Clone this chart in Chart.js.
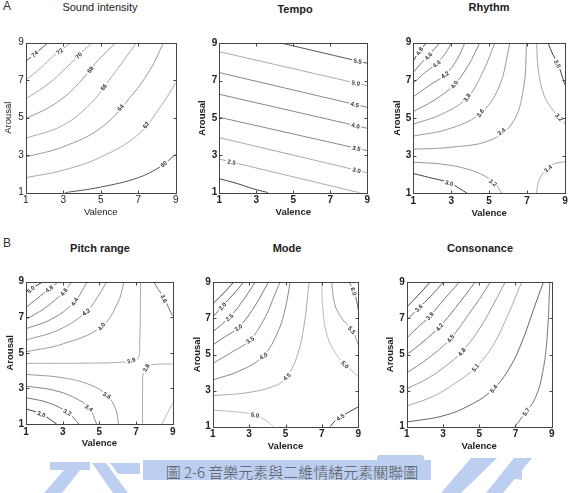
<!DOCTYPE html>
<html>
<head>
<meta charset="utf-8">
<script src="https://cdn.jsdelivr.net/npm/chart.js@4/dist/chart.umd.min.js"></script>
<style>
  body { margin: 0; background: #fff; }
  #page { position: relative; width: 569px; height: 493px; overflow: hidden; font-family: "Liberation Sans", Arial, sans-serif; }
  canvas { position: absolute; }
  .txt { position: absolute; white-space: nowrap; color: #222; transform: translate(-50%, -50%); }
  .ttl { font-size: 11px; font-weight: bold; }
  .tag { font-size: 12px; color: #333; transform: none; }
  #caption { font-family: "Noto Sans CJK TC", serif; font-size: 15px; font-weight: 300; color: #555; }
  #mark { position: absolute; left: 0; top: 0; }
</style>
</head>
<body>
<div id="page">
  <svg id="mark" width="569" height="493">
    <g fill="#bccff0">
      <polygon points="50,462 90,462 90,470 80,470 62,493 44,493 64,470 50,470"/>
      <polygon points="92,463 106,463 128,493 113,493"/>
      <polygon points="110,463 140,463 140,474 118,474"/>
      <rect x="143" y="460" width="288" height="20"/>
      <rect x="377" y="455" width="47" height="6" rx="3"/>
      <polygon points="471,458 497,458 461,493 441,493"/>
      <polygon points="514,458 532,458 503,493 486,493"/>
      <polygon points="500,476 522,470 522,480"/>
    </g>
  </svg>
  <div class="txt tag" style="left:3px;top:-1px">A</div>
  <div class="txt tag" style="left:3px;top:236px">B</div>
  <div class="txt ttl" style="left:100px;top:7px;font-weight:normal">Sound intensity</div>
  <div class="txt ttl" style="left:295px;top:9px">Tempo</div>
  <div class="txt ttl" style="left:489px;top:7px">Rhythm</div>
  <div class="txt ttl" style="left:100px;top:248px">Pitch range</div>
  <div class="txt ttl" style="left:287px;top:248px">Mode</div>
  <div class="txt ttl" style="left:480px;top:248px">Consonance</div>
  <div id="caption" class="txt" style="left:292px;top:471px">圖 2-6 音樂元素與二維情緒元素關聯圖</div>
</div>
<script>
// axis ticks (valence / arousal scale 1..9)
const valenceTicks = [1, 3, 5, 7, 9];
const arousalTicks = [1, 3, 5, 7, 9];

// Sound intensity contours
const soundLevels = ['60', '62', '64', '66', '68', '70', '72', '74'];
const soundLines = [
    [[3.1, 1], [5, 1.3], [7, 1.8], [8.2, 2.4], [9, 3.05]],
    [[1, 1.8], [3, 2.2], [5, 2.9], [7, 4.1], [8.2, 5.6], [9, 6.85]],
    [[1, 2.9], [3, 3.45], [5, 4.45], [6.5, 6.0], [7.6, 7.5], [8.35, 9]],
    [[1, 3.9], [3, 4.6], [4.5, 5.8], [5.6, 7.2], [6.9, 9]],
    [[1, 4.95], [2.5, 5.7], [3.7, 6.7], [4.9, 8.1], [5.8, 9]],
    [[1, 6.0], [2.2, 6.8], [3.2, 7.7], [4, 8.5], [4.55, 9]],
    [[1, 7.0], [1.8, 7.65], [2.5, 8.3], [3.4, 9]],
    [[1, 8.0], [1.6, 8.5], [2.2, 9]]
];
const soundLabelAt = [[8.3, 2.6], [7.3, 4.7], [6.0, 5.6], [5.2, 6.6], [4.4, 7.6], [3.8, 8.35], [2.76, 8.6], [1.4, 8.5]];

// Tempo contours
const tempoLevels = ['2.0', '2.5', '3.0', '3.5', '4.0', '4.5', '5.0', '5.5'];
const tempoLines = [
    [[1, 1.75], [2, 1.48], [2.8, 1.22], [3.65, 1]],
    [[1, 2.8], [8.57, 1]],
    [[1, 3.95], [9, 2.07]],
    [[1, 5.04], [9, 3.25]],
    [[1, 6.27], [9, 4.45]],
    [[1, 7.43], [9, 5.57]],
    [[1, 8.55], [9, 6.73]],
    [[4.4, 9], [9, 7.93]]
];
const tempoLabelAt = [null, [1.67, 2.65], [8.42, 2.2], [8.42, 3.4], [8.37, 4.6], [8.32, 5.7], [8.39, 6.9], [8.48, 8.05]];

// Rhythm contours
const rhythmLevels = ['3.0', '3.2', '3.4', '3.4', '3.6', '3.8', '4.0', '4.2', '4.4', '4.6', '4.8', '3.2', '3.0'];
const rhythmLines = [
    [[1, 2.05], [1.8, 1.85], [2.9, 1.55], [3.85, 1]],
    [[1, 2.65], [2.5, 2.55], [3.8, 2.3], [4.8, 1.9], [5.4, 1.4], [5.66, 1]],
    [[7.5, 1], [7.6, 1.6], [7.9, 2.15], [8.4, 2.55], [9, 2.68]],
    [[1, 3.34], [3, 3.45], [5.0, 3.8], [6.2, 4.7], [6.8, 6.5], [6.98, 9]],
    [[1, 4.04], [2.8, 4.4], [4.48, 5.2], [5.5, 6.6], [6.1, 9]],
    [[1, 4.68], [2.5, 5.2], [3.81, 6.05], [4.6, 7.3], [5.31, 9]],
    [[1, 5.34], [2.1, 5.95], [3.14, 6.75], [3.9, 7.8], [4.51, 9]],
    [[1, 6.13], [1.8, 6.7], [2.67, 7.3], [3.3, 8.1], [3.72, 9]],
    [[1, 6.84], [1.6, 7.4], [2.25, 7.9], [2.7, 8.45], [3.02, 9]],
    [[1, 7.41], [1.4, 7.9], [1.8, 8.3], [2.1, 8.65], [2.41, 9]],
    [[1, 8.03], [1.32, 8.55], [1.7, 9]],
    [[7.5, 9], [7.6, 7.5], [7.9, 6.2], [8.38, 5.4], [9, 4.7]],
    [[8.1, 9], [8.35, 8.4], [8.65, 7.8], [8.95, 6.9], [9, 6.75]]
];
const rhythmLabelAt = [[2.9, 1.55], [5.27, 1.65], [8.07, 2.35], [5.71, 4.19], [4.48, 5.3], [3.81, 6.1], [3.14, 6.8],
    [2.67, 7.3], [2.23, 7.87], [1.79, 8.3], [1.32, 8.55], [8.82, 5.16], [8.73, 7.94]];

// Pitch range contours
const pitchLevels = ['3.0', '3.2', '3.4', '3.6', '3.8', '3.8', '4.0', '4.2', '4.4', '4.6', '4.8', '5.0', '3.6', '3.6'];
const pitchLines = [
    [[1, 1.85], [1.85, 1.55], [2.67, 1]],
    [[1, 2.48], [2.2, 2.2], [3.27, 1.65], [3.89, 1]],
    [[1, 3.13], [2.5, 2.9], [3.6, 2.5], [4.45, 1.9], [4.85, 1]],
    [[1, 3.79], [3, 3.6], [4.5, 3.2], [5.44, 2.6], [5.9, 1.8], [6.04, 1]],
    [[9, 4.37], [8, 4.35], [7.6, 4.25], [7.4, 3.9], [7.36, 3], [7.35, 1]],
    [[1, 4.41], [4, 4.42], [6.5, 4.5], [7.1, 4.7], [7.2, 5.5], [7.25, 9]],
    [[1, 5.06], [3, 5.5], [5.09, 6.45], [6, 7.8], [6.35, 9]],
    [[1, 5.72], [2.8, 6.3], [4.27, 7.3], [5.0, 8.3], [5.4, 9]],
    [[1, 6.36], [2.4, 6.9], [3.62, 7.85], [4.35, 9]],
    [[1, 6.88], [2, 7.5], [3.04, 8.4], [3.49, 9]],
    [[1, 7.55], [1.6, 8.05], [2.27, 8.6], [2.76, 9]],
    [[1, 8.34], [1.3, 8.6], [1.6, 8.8], [1.95, 9]],
    [[7.95, 9], [8.5, 8.1], [9, 7.07]],
    [[8.4, 1], [9, 2.16]]
];
const pitchLabelAt = [[1.85, 1.6], [3.27, 1.69], [4.45, 1.94], [5.44, 2.65], [7.31, 4.3], [6.76, 4.5], [5.09, 6.5],
    [4.27, 7.3], [3.62, 7.9], [3.04, 8.45], [2.27, 8.6], [1.25, 8.57], [8.53, 8.06], null];

// Mode contours
const modeLevels = ['1.5', '2.0', '2.5', '3.0', '3.5', '4.0', '4.5', '5.0', '5.0', '5.5', '6.0', '4.5'];
const modeLines = [
    [[1, 7.8], [1.6, 8.4], [2.14, 9]],
    [[1, 7.06], [1.53, 7.68], [2.1, 8.3], [2.69, 9]],
    [[1, 6.26], [1.92, 7.06], [2.6, 7.9], [3.33, 9]],
    [[1, 5.53], [1.7, 6.0], [2.41, 6.49], [3.2, 7.5], [4.06, 9]],
    [[1, 4.51], [2, 5.1], [3.05, 5.81], [3.9, 7.1], [4.4, 8.3], [4.7, 9]],
    [[1, 3.59], [2.5, 4.1], [3.78, 4.92], [4.6, 6.3], [5.0, 7.6], [5.25, 9]],
    [[1, 2.72], [3, 2.9], [4.5, 3.3], [5.07, 3.77], [5.6, 4.8], [6.0, 6.5], [6.3, 9]],
    [[1, 1.92], [2.5, 1.8], [3.33, 1.65], [4, 1.3], [4.33, 1]],
    [[6.99, 9], [7.05, 7.5], [7.3, 6.0], [7.8, 5.0], [8.27, 4.45], [9, 3.77]],
    [[7.54, 9], [7.7, 7.8], [8.1, 7.0], [8.69, 6.3], [9, 5.53]],
    [[8.5, 9], [8.75, 8.5], [8.9, 8.0], [9, 7.45]],
    [[7.45, 1], [7.75, 1.35], [8.2, 1.65], [9, 2.1]]
];
const modeLabelAt = [null, [1.53, 7.68], [1.92, 7.06], [2.41, 6.49], [3.05, 5.81], [3.78, 4.92], [5.07, 3.77],
    [3.33, 1.7], [8.27, 4.45], [8.69, 6.4], [8.77, 8.5], [7.96, 1.6]];

// Consonance contours
const consonanceLevels = ['3.3', '3.6', '3.9', '4.2', '4.5', '4.8', '5.1', '5.4', '5.7'];
const consonanceLines = [
    [[1, 7.62], [1.6, 8.25], [2.29, 9]],
    [[1, 6.92], [1.64, 7.55], [2.3, 8.2], [3.02, 9]],
    [[1, 5.91], [1.6, 6.5], [2.25, 7.1], [3.1, 8.1], [3.9, 9]],
    [[1, 4.99], [1.9, 5.7], [2.78, 6.5], [3.7, 7.6], [4.77, 9]],
    [[1, 3.98], [2.2, 4.8], [3.39, 5.85], [4.4, 7.2], [5.1, 8.2], [5.6, 9]],
    [[1, 3.1], [2.2, 3.7], [3.2, 4.4], [4.0, 5.1], [5.0, 6.4], [5.8, 7.8], [6.43, 9]],
    [[1, 2.14], [2.5, 2.7], [3.8, 3.5], [4.77, 4.25], [5.7, 5.4], [6.5, 7.0], [7.34, 9]],
    [[1, 1.26], [3, 1.6], [4.5, 2.2], [5.74, 3.05], [6.7, 4.3], [7.4, 5.8], [8.0, 7.5], [8.54, 9]],
    [[6.97, 1], [7.53, 1.75], [8.1, 2.6], [8.5, 4], [8.75, 6], [8.9, 9]]
];
const consonanceLabelAt = [null, [1.64, 7.6], [2.25, 7.16], [2.78, 6.55], [3.39, 5.91], [4.0, 5.17], [4.77, 4.29],
    [5.74, 3.15], [7.53, 1.86]];

const page = document.getElementById('page');

// contour labels, box and inward ticks
const contourPlugin = {
    id: 'contour',
    afterDatasetsDraw(chart, args, opts) {
        const {ctx, chartArea: a, scales: {x, y}} = chart;
        ctx.save();
        ctx.font = 'bold 6px "Liberation Sans"';
        ctx.textAlign = 'center';
        ctx.textBaseline = 'middle';
        opts.labels.forEach((lab, i) => {
            if (!lab) return;
            const pts = chart.getDatasetMeta(i).data;
            const px = x.getPixelForValue(lab[0]);
            const py = y.getPixelForValue(lab[1]);
            let best = null;
            for (let k = 0; k < pts.length - 1; k++) {
                const p = pts[k], q = pts[k + 1];
                const dx = q.x - p.x, dy = q.y - p.y;
                const len2 = dx * dx + dy * dy || 1;
                let t = ((px - p.x) * dx + (py - p.y) * dy) / len2;
                t = Math.max(0, Math.min(1, t));
                const cx = p.x + t * dx, cy = p.y + t * dy;
                const d = (cx - px) ** 2 + (cy - py) ** 2;
                if (!best || d < best.d) best = {d, cx, cy, ang: Math.atan2(dy, dx)};
            }
            let ang = best.ang;
            if (ang > Math.PI / 2) ang -= Math.PI;
            if (ang < -Math.PI / 2) ang += Math.PI;
            const text = chart.data.datasets[i].label;
            const w = ctx.measureText(text).width;
            ctx.save();
            ctx.translate(best.cx, best.cy);
            ctx.rotate(ang);
            ctx.fillStyle = '#fff';
            ctx.fillRect(-w / 2 - 1.5, -3, w + 3, 6);
            ctx.fillStyle = '#333';
            ctx.fillText(text, 0, 0.5);
            ctx.restore();
        });

        const l = Math.round(a.left) + 0.5, r = Math.round(a.right) + 0.5;
        const t = Math.round(a.top) + 0.5, b = Math.round(a.bottom) + 0.5;
        ctx.strokeStyle = '#444';
        ctx.lineWidth = 1;
        ctx.strokeRect(l, t, r - l, b - t);
        ctx.beginPath();
        valenceTicks.forEach(v => {
            const xx = Math.round(x.getPixelForValue(v)) + 0.5;
            ctx.moveTo(xx, b); ctx.lineTo(xx, b - 3);
            ctx.moveTo(xx, t); ctx.lineTo(xx, t + 3);
        });
        arousalTicks.forEach(v => {
            const yy = Math.round(y.getPixelForValue(v)) + 0.5;
            ctx.moveTo(l, yy); ctx.lineTo(l + 3, yy);
            ctx.moveTo(r, yy); ctx.lineTo(r - 3, yy);
        });
        ctx.stroke();
        ctx.restore();
    }
};

function makePanel(p) {
    const [bx, by, bw, bh] = p.box;
    const [L, T, R, B] = p.area;
    const canvas = document.createElement('canvas');
    canvas.width = bw;
    canvas.height = bh;
    canvas.style.left = bx + 'px';
    canvas.style.top = by + 'px';
    page.appendChild(canvas);

    const axisFont = {family: '"Liberation Sans", Arial', size: 9.5, weight: p.weight};
    const tickFont = {family: '"Liberation Sans", Arial', size: 10, weight: p.weight};
    const lh = axisFont.size * 1.2;
    const yWidth = L - p.arousalX + lh / 2;
    const xHeight = p.valenceY - B + lh / 2;

    new Chart(canvas, {
        type: 'line',
        data: {
            datasets: p.lines.map((pts, i) => ({
                label: p.levels[i],
                data: pts.map(([vx, vy]) => ({x: vx, y: vy})),
                borderColor: p.colors[i],
                borderWidth: 1,
                pointRadius: 0,
                tension: 0.4,
                fill: false
            }))
        },
        options: {
            responsive: false,
            animation: false,
            events: [],
            layout: {
                padding: {
                    left: p.arousalX - lh / 2 - bx,
                    top: T - by,
                    right: bx + bw - R,
                    bottom: by + bh - B - xHeight
                }
            },
            plugins: {
                legend: {display: false},
                tooltip: {enabled: false},
                contour: {labels: p.labelAt}
            },
            scales: {
                x: {
                    type: 'linear', min: 1, max: 9,
                    afterBuildTicks: s => { s.ticks = valenceTicks.map(v => ({value: v})); },
                    afterFit: s => { s.height = xHeight; s.paddingLeft = 0; s.paddingRight = 0; },
                    grid: {display: false, drawTicks: false},
                    border: {display: false},
                    ticks: {padding: 2, font: tickFont, color: '#222', maxRotation: 0},
                    title: {display: true, text: 'Valence', padding: 0, font: axisFont, color: '#222'}
                },
                y: {
                    type: 'linear', min: 1, max: 9,
                    afterBuildTicks: s => { s.ticks = arousalTicks.map(v => ({value: v})); },
                    afterFit: s => { s.width = yWidth; s.paddingTop = 0; s.paddingBottom = 0; },
                    grid: {display: false, drawTicks: false},
                    border: {display: false},
                    ticks: {padding: 2, font: tickFont, color: '#222'},
                    title: {display: true, text: 'Arousal', padding: 0, font: axisFont, color: '#222'}
                }
            }
        },
        plugins: [contourPlugin]
    });
}

makePanel({box: [0, 16, 190, 210], area: [25.7, 42.7, 175.7, 192.7], arousalX: 8.3, valenceY: 212, weight: 'normal',
    levels: soundLevels, lines: soundLines, labelAt: soundLabelAt,
    colors: ['#555', '#aaa', '#999', '#aaa', '#999', '#aaa', '#aaa', '#555']});
makePanel({box: [190, 16, 190, 210], area: [219.3, 43.3, 367.3, 192.7], arousalX: 202.5, valenceY: 212.5, weight: 'bold',
    levels: tempoLevels, lines: tempoLines, labelAt: tempoLabelAt,
    colors: ['#444', '#aaa', '#aaa', '#888', '#888', '#888', '#aaa', '#555']});
makePanel({box: [380, 16, 189, 210], area: [413.3, 42.7, 565, 193.3], arousalX: 397, valenceY: 213.3, weight: 'bold',
    levels: rhythmLevels, lines: rhythmLines, labelAt: rhythmLabelAt,
    colors: ['#444', '#999', '#aaa', '#999', '#999', '#999', '#888', '#888', '#888', '#777', '#444', '#aaa', '#444']});
makePanel({box: [0, 256, 190, 200], area: [26, 281.7, 172.7, 424], arousalX: 10, valenceY: 443.3, weight: 'bold',
    levels: pitchLevels, lines: pitchLines, labelAt: pitchLabelAt,
    colors: ['#444', '#777', '#888', '#999', '#aaa', '#aaa', '#999', '#999', '#888', '#888', '#777', '#444', '#777', '#bbb']});
makePanel({box: [190, 256, 190, 200], area: [212.7, 282.3, 358.3, 426.7], arousalX: 197, valenceY: 446, weight: 'bold',
    levels: modeLevels, lines: modeLines, labelAt: modeLabelAt,
    colors: ['#444', '#666', '#777', '#777', '#888', '#888', '#aaa', '#bbb', '#bbb', '#999', '#666', '#444']});
makePanel({box: [380, 256, 189, 200], area: [406.7, 282.3, 551.7, 426.7], arousalX: 390.5, valenceY: 446.7, weight: 'bold',
    levels: consonanceLevels, lines: consonanceLines, labelAt: consonanceLabelAt,
    colors: ['#444', '#666', '#777', '#777', '#888', '#999', '#aaa', '#666', '#777']});
</script>
</body>
</html>
